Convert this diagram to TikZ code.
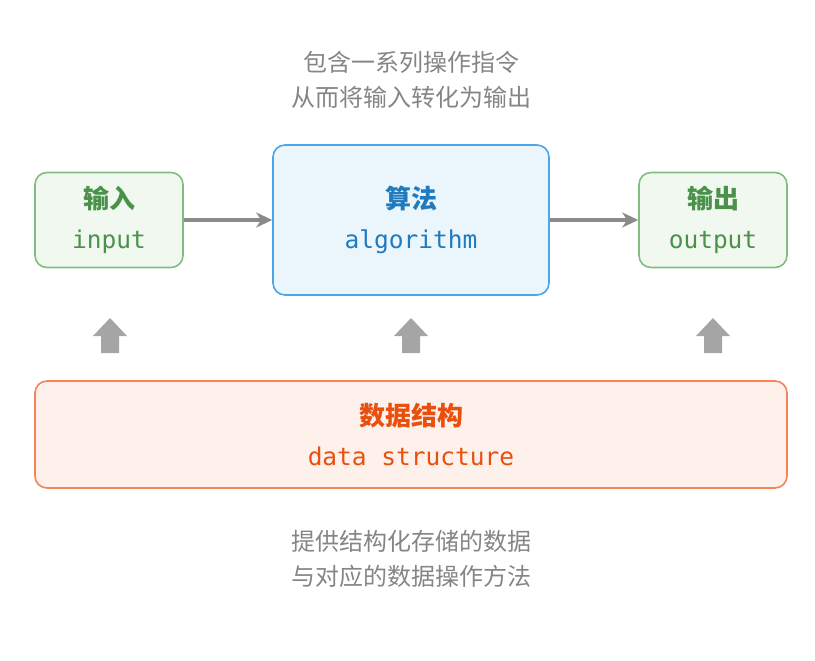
\documentclass[tikz,border=0pt]{standalone}
\usepackage{fontspec}
\setmainfont{Noto Sans CJK SC}
\setmonofont{DejaVu Sans Mono}
\usepackage{xcolor}
\usetikzlibrary{positioning,arrows.meta}

\definecolor{greenline}{HTML}{82BD80}
\definecolor{greenfill}{HTML}{F1F8F0}
\definecolor{greentext}{HTML}{4A9149}
\definecolor{blueline}{HTML}{4BA6E8}
\definecolor{bluefill}{HTML}{EAF5FC}
\definecolor{bluetext}{HTML}{1F7BC0}
\definecolor{orangeline}{HTML}{F6845B}
\definecolor{orangefill}{HTML}{FEF0EB}
\definecolor{orangetext}{HTML}{E9500E}
\definecolor{notegray}{HTML}{858585}
\definecolor{flowgray}{HTML}{8A8A8A}
\definecolor{upgray}{HTML}{A5A5A5}

\newcommand{\boxtitle}[1]{{\fontsize{26pt}{26pt}\selectfont\bfseries #1}}
\newcommand{\boxcode}[1]{{\fontsize{24.5pt}{24.5pt}\selectfont\ttfamily #1}}

\begin{document}
\begin{tikzpicture}[
    x=1pt,
    y=-1pt,
    >=Stealth,
    thick
]


\tikzstyle{block}=[
    rectangle,
    rounded corners=12pt,
    line width=1.6pt,
    align=center,
    inner sep=0pt,
    font=\fontsize{22pt}{40pt}\selectfont
]
\tikzstyle{note}=[
    align=center,
    text=notegray,
    font=\fontsize{24pt}{35pt}\selectfont
]
\tikzstyle{flow}=[
    ->,
    draw=flowgray,
    line width=3.5pt,
    >={Stealth[length=16pt,width=15pt,inset=5pt]}
]
\tikzstyle{uparrow}=[
    fill=upgray
]


\useasboundingbox (0,0) rectangle (815,661);


\node[block, draw=blueline, fill=bluefill, text=bluetext,
      minimum width=276pt, minimum height=150pt] (algo) at (411,220)
      {\boxtitle{算法}\\\boxcode{algorithm}};
\node[block, draw=greenline, fill=greenfill, text=greentext,
      minimum width=148pt, minimum height=95pt, left=88.4pt of algo] (input)
      {\boxtitle{输入}\\\boxcode{input}};
\node[block, draw=greenline, fill=greenfill, text=greentext,
      minimum width=148pt, minimum height=95pt, right=88.4pt of algo] (output)
      {\boxtitle{输出}\\\boxcode{output}};
\node[block, draw=orangeline, fill=orangefill, text=orangetext,
      minimum width=752pt, minimum height=107pt, below=84.4pt of algo] (data)
      {\boxtitle{数据结构}\\\boxcode{data structure}};


\draw[flow] (input) -- (algo);
\draw[flow] (algo) -- (output);


\foreach \ux in {110,411,713}
    \fill[uparrow] (\ux-9,353) -- (\ux-9,336) -- (\ux-17,336) -- (\ux,318)
        -- (\ux+17,336) -- (\ux+9,336) -- (\ux+9,353) -- cycle;


\node[note] (algonote) at (411,80) {包含一系列操作指令\\从而将输入转化为输出};
\node[note] (datanote) at (411,559) {提供结构化存储的数据\\与对应的数据操作方法};

\end{tikzpicture}
\end{document}
